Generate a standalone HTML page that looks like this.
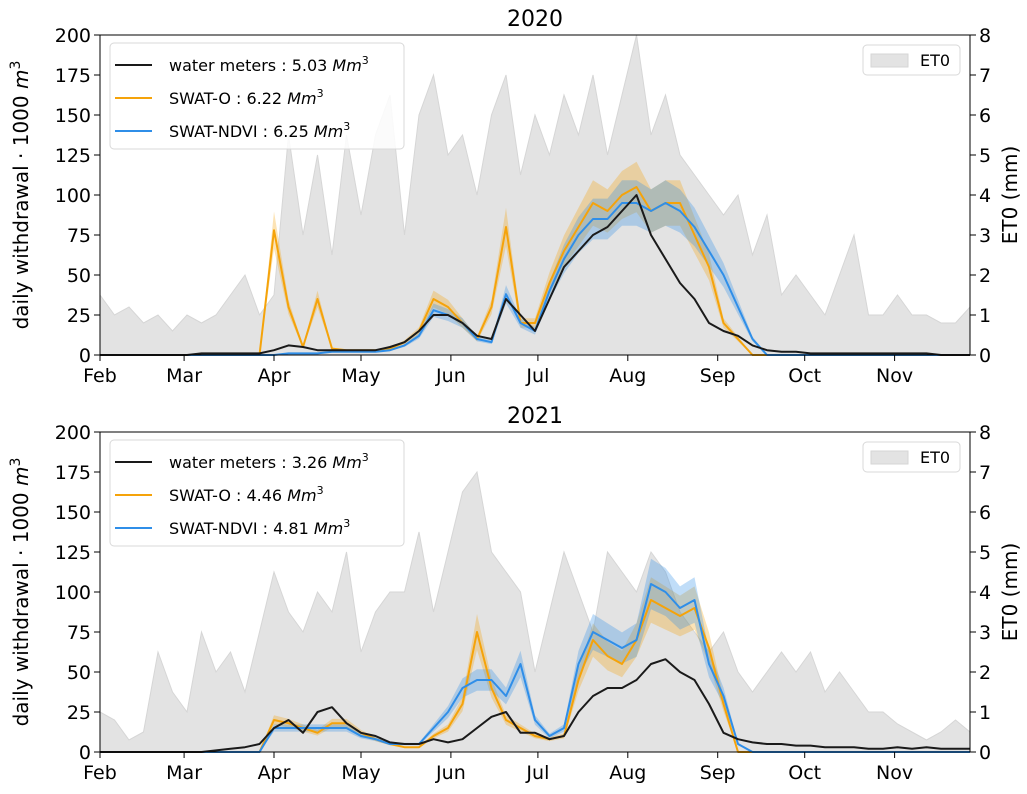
<!DOCTYPE html>
<html><head><meta charset="utf-8">
<style>
html,body{margin:0;padding:0;background:#fff;}
svg{display:block;font-family:"DejaVu Sans","Liberation Sans",sans-serif;}
</style></head>
<body>
<svg id="chart" width="1027" height="794" viewBox="0 0 1027 794" xmlns="http://www.w3.org/2000/svg"></svg>
<script>
// sample days (days since Feb 1), every 5 days
const days = [0,5,10,15,20,25,30,35,40,45,50,55,60,65,70,75,80,85,90,95,100,105,110,115,120,125,130,135,140,145,150,155,160,165,170,175,180,185,190,195,200,205,210,215,220,225,230,235,240,245,250,255,260,265,270,275,280,285,290,295,300];
const monthLabels = ["Feb","Mar","Apr","May","Jun","Jul","Aug","Sep","Oct","Nov"];
const monthDays = [0,29,60,90,121,151,182,213,243,274];
const leftTicks = [0,25,50,75,100,125,150,175,200];
const rightTicks = [0,1,2,3,4,5,6,7,8];

const et0_2020 = [1.5,1.0,1.2,0.8,1.0,0.6,1.0,0.8,1.0,1.5,2.0,1.0,1.5,5.5,3.0,5.0,2.5,5.5,3.5,5.5,6.5,3.0,6.0,7.0,5.0,5.5,4.0,6.0,7.0,4.5,6.0,5.0,6.5,5.5,7.0,5.0,6.5,8.0,5.5,6.5,5.0,4.5,4.0,3.5,4.0,2.5,3.5,1.5,2.0,1.5,1.0,2.0,3.0,1.0,1.0,1.5,1.0,1.0,0.8,0.8,1.2];
const water_2020 = [0,0,0,0,0,0,0,1,1,1,1,1,3,6,5,3,3,3,3,3,5,8,15,25,25,20,12,10,35,25,15,35,55,65,75,80,90,100,75,60,45,35,20,15,12,6,3,2,2,1,1,1,1,1,1,1,1,1,0,0,0];
const swatO_2020 = [0,0,0,0,0,0,0,0,0,0,0,0,78,30,5,35,4,3,3,3,4,8,15,35,30,20,10,30,80,20,20,45,65,80,95,90,100,105,90,95,95,75,55,20,10,0,0,0,0,0,0,0,0,0,0,0,0,0,0,0,0];
const swatN_2020 = [0,0,0,0,0,0,0,0,0,0,0,0,0,1,1,1,2,2,2,2,3,6,12,28,25,20,10,8,38,20,15,40,60,75,85,85,95,95,90,95,90,80,65,50,30,10,0,0,0,0,0,0,0,0,0,0,0,0,0,0,0];

const et0_2021 = [1.0,0.8,0.3,0.5,2.5,1.5,1.0,3.0,2.0,2.5,1.5,3.0,4.5,3.5,3.0,4.0,3.5,5.0,2.5,3.5,4.0,4.0,5.5,3.5,5.0,6.5,7.0,5.0,4.5,4.0,2.0,3.5,5.0,4.0,3.0,5.0,4.5,4.0,5.0,4.5,3.5,3.0,2.5,3.0,2.0,1.5,2.0,2.5,2.0,2.5,1.5,2.0,1.5,1.0,1.0,0.7,0.5,0.3,0.5,0.8,0.5];
const water_2021 = [0,0,0,0,0,0,0,0,1,2,3,5,15,20,12,25,28,18,12,10,6,5,5,8,6,8,15,22,25,12,12,8,10,25,35,40,40,45,55,58,50,45,30,12,8,6,5,5,4,4,3,3,3,2,2,3,2,3,2,2,2];
const swatO_2021 = [0,0,0,0,0,0,0,0,0,0,0,0,20,18,15,12,18,18,12,8,5,3,3,10,15,30,75,40,20,15,10,8,10,45,70,60,55,70,95,90,85,90,65,30,0,0,0,0,0,0,0,0,0,0,0,0,0,0,0,0,0];
const swatN_2021 = [0,0,0,0,0,0,0,0,0,0,0,0,15,15,15,15,15,15,10,8,5,5,5,15,25,40,45,45,35,55,20,10,15,55,75,70,65,70,105,100,90,95,55,35,5,0,0,0,0,0,0,0,0,0,0,0,0,0,0,0,0];

const svg = document.getElementById('chart');
const NS = 'http://www.w3.org/2000/svg';
function mk(tag, attrs, parent){ const e=document.createElementNS(NS,tag); for(const k in attrs) e.setAttribute(k,attrs[k]); (parent||svg).appendChild(e); return e; }

const X0=100, X1=970, DMAX=300;
function xs(d){ return X0 + d/DMAX*(X1-X0); }

function panel(cfg){
  const top=cfg.top, bot=cfg.bot;
  const yl=v=>bot-(v/200)*(bot-top);
  const yr=v=>bot-(v/8)*(bot-top);
  const g=mk('g',{});
  
  
  // ET0 area
  let p='M'+xs(days[0])+','+yr(0);
  days.forEach((d,i)=>{ p+=' L'+xs(d)+','+yr(cfg.et0[i]); });
  p+=' L'+xs(days[days.length-1])+','+yr(0)+' Z';
  const area=mk('path',{d:p,fill:'#e3e3e3',stroke:'#d6d6d6','stroke-width':1},g);
  
  
  // bands + lines
  const series=[[cfg.o,'#f5a30a','swat-o'],[cfg.n,'#2f8ee8','swat-ndvi']];
  series.forEach(s=>{
    let up='',lo='';
    days.forEach((d,i)=>{ up+=(i?' L':'M')+xs(d)+','+yl(s[0][i]*1.15); });
    for(let i=days.length-1;i>=0;i--){ lo+=' L'+xs(days[i])+','+yl(s[0][i]*0.85); }
    const b=mk('path',{d:up+lo+' Z',fill:s[1],'fill-opacity':0.3,stroke:'none'},g);
    
    
  });
  const lines=[[cfg.w,'#1a1a1a','water-meters'],[cfg.o,'#f5a30a','swat-o'],[cfg.n,'#2f8ee8','swat-ndvi']];
  [lines[1],lines[2],lines[0]].forEach(s=>{
    const pts=days.map((d,i)=>xs(d)+','+yl(s[0][i])).join(' ');
    const l=mk('polyline',{points:pts,fill:'none',stroke:s[1],'stroke-width':2,'stroke-linejoin':'round'},g);
    
    
  });
  // frame
  mk('rect',{x:X0,y:top,width:X1-X0,height:bot-top,fill:'none',stroke:'#000','stroke-width':1},g);
  // ticks
  leftTicks.forEach(v=>{
    mk('line',{x1:X0-6,x2:X0,y1:yl(v),y2:yl(v),stroke:'#000'},g);
    const t=mk('text',{x:X0-9,y:yl(v)+7,'text-anchor':'end','font-size':19},g); t.textContent=v;
    
    
  });
  rightTicks.forEach(v=>{
    mk('line',{x1:X1,x2:X1+6,y1:yr(v),y2:yr(v),stroke:'#000'},g);
    const t=mk('text',{x:X1+9,y:yr(v)+7,'font-size':19},g); t.textContent=v;
    
    
  });
  monthLabels.forEach((m,i)=>{
    const x=xs(monthDays[i]);
    mk('line',{x1:x,x2:x,y1:bot,y2:bot+6,stroke:'#000'},g);
    const t=mk('text',{x:x,y:bot+27,'text-anchor':'middle','font-size':19},g); t.textContent=m;
    
    
  });
  const ti=mk('text',{x:(X0+X1)/2,y:top-9,'text-anchor':'middle','font-size':22},g); ti.textContent=cfg.year;
  
  
  const cy=(top+bot)/2;
  const yt=mk('text',{x:0,y:0,'text-anchor':'middle','font-size':20,transform:'translate(28,'+cy+') rotate(-90)'},g);
  yt.innerHTML='daily withdrawal · 1000 <tspan font-style="italic">m</tspan><tspan dy="-8" font-size="14">3</tspan>';
  
  
  const rt=mk('text',{x:0,y:0,'text-anchor':'middle','font-size':20,transform:'translate(1017,'+cy+') rotate(-90)'},g);
  rt.textContent='ET0 (mm)';
  
  
  // legend
  const lg=mk('g',{},g);
  
  
  mk('rect',{x:110,y:top+8,width:294,height:106,rx:4,fill:'#fff','fill-opacity':0.85,stroke:'#d8d8d8'},lg);
  cfg.labels.forEach((lb,i)=>{
    const y=top+30+i*33;
    mk('line',{x1:115,x2:152,y1:y,y2:y,stroke:lines[i][1],'stroke-width':2},lg);
    const t=mk('text',{x:169,y:y+6,'font-size':16},lg);
    t.innerHTML=lb+' <tspan font-style="italic">Mm</tspan><tspan dy="-7" font-size="11">3</tspan>';
    
    
  });
  const lg2=mk('g',{},g);
  
  
  mk('rect',{x:863,y:top+10,width:97,height:30,rx:4,fill:'#fff',stroke:'#d8d8d8'},lg2);
  mk('rect',{x:871,y:top+19,width:37,height:13,fill:'#e3e3e3',stroke:'#d6d6d6'},lg2);
  const et=mk('text',{x:920,y:top+31,'font-size':16},lg2); et.textContent='ET0';
}

panel({year:'2020',top:35,bot:355,et0:et0_2020,w:water_2020,o:swatO_2020,n:swatN_2020,
  labels:['water meters : 5.03','SWAT-O : 6.22','SWAT-NDVI : 6.25']});
panel({year:'2021',top:432,bot:752,et0:et0_2021,w:water_2021,o:swatO_2021,n:swatN_2021,
  labels:['water meters : 3.26','SWAT-O : 4.46','SWAT-NDVI : 4.81']});
</script>
</body></html>
